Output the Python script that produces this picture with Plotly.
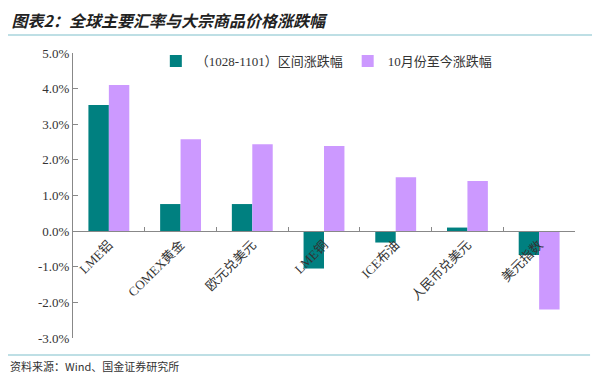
import plotly.graph_objects as go

categories = ["LME铝", "COMEX黄金", "欧元兑美元", "LME铜", "ICE布油", "人民币兑美元", "美元指数"]
interval_change = [3.54, 0.76, 0.76, -1.05, -0.32, 0.10, -0.67]
since_oct_change = [4.10, 2.58, 2.44, 2.39, 1.51, 1.41, -2.20]
series_names = ["（1028-1101）区间涨跌幅", "10月份至今涨跌幅"]
y_ticks = [-3, -2, -1, 0, 1, 2, 3, 4, 5]
y_tick_text = [f"{v:.1f}%" for v in y_ticks]

TEAL = "#008080"
PURPLE = "#CC99FF"
SERIF = "Liberation Serif, Noto Sans CJK SC, serif"

fig = go.Figure()
fig.add_trace(go.Bar(x=categories, y=interval_change, name=series_names[0],
                     marker=dict(color=TEAL, line=dict(width=0))))
fig.add_trace(go.Bar(x=categories, y=since_oct_change, name=series_names[1],
                     marker=dict(color=PURPLE, line=dict(width=0))))

fig.update_layout(
    width=592, height=378,
    margin=dict(l=65, r=25, t=45, b=48),
    paper_bgcolor="white", plot_bgcolor="white",
    barmode="group", bargap=0.43, bargroupgap=0,
    showlegend=True,
    legend=dict(orientation="h", x=0.165, xanchor="left", y=0.972, yanchor="middle",
                font=dict(family=SERIF, size=13, color="#333"),
                bgcolor="rgba(0,0,0,0)", itemwidth=30, tracegroupgap=0),
    title=dict(text="<b><i>图表2：全球主要汇率与大宗商品价格涨跌幅</i></b>",
               xref="container", x=0.006, xanchor="left",
               yref="container", y=1 - 13/378, yanchor="middle",
               font=dict(family="Noto Sans CJK SC", size=16, color="#222")),
    xaxis=dict(
        anchor="free", position=3/8, showline=True, linecolor="#888", linewidth=1,
        ticks="inside", ticklen=4, tickcolor="#888", tickson="boundaries",
        tickangle=-45, showgrid=False, zeroline=False,
        tickfont=dict(family=SERIF, size=13, color="#333"),
    ),
    yaxis=dict(
        range=[-3, 5], tickvals=y_ticks, ticktext=y_tick_text,
        showline=True, linecolor="#888", linewidth=1,
        ticks="inside", ticklen=5, tickcolor="#888",
        showgrid=False, zeroline=False,
        tickfont=dict(family=SERIF, size=13, color="#333"),
    ),
    shapes=[
        dict(type="line", xref="paper", yref="paper", x0=-0.1295, x1=1.034,
             y0=1 + 18/285, y1=1 + 18/285, line=dict(color="#A8D4DC", width=1.5)),
        dict(type="line", xref="paper", yref="paper", x0=-0.1295, x1=1.03,
             y0=-17/285, y1=-17/285, line=dict(color="#A8D4DC", width=1.5)),
    ],
    annotations=[
        dict(text="资料来源：Wind、国金证券研究所", xref="paper", yref="paper",
             x=-0.1295, xanchor="left", y=-28/285, yanchor="middle", showarrow=False,
             font=dict(family="Noto Sans CJK SC", size=11, color="#333")),
    ],
)

fig.write_html("out.html")
